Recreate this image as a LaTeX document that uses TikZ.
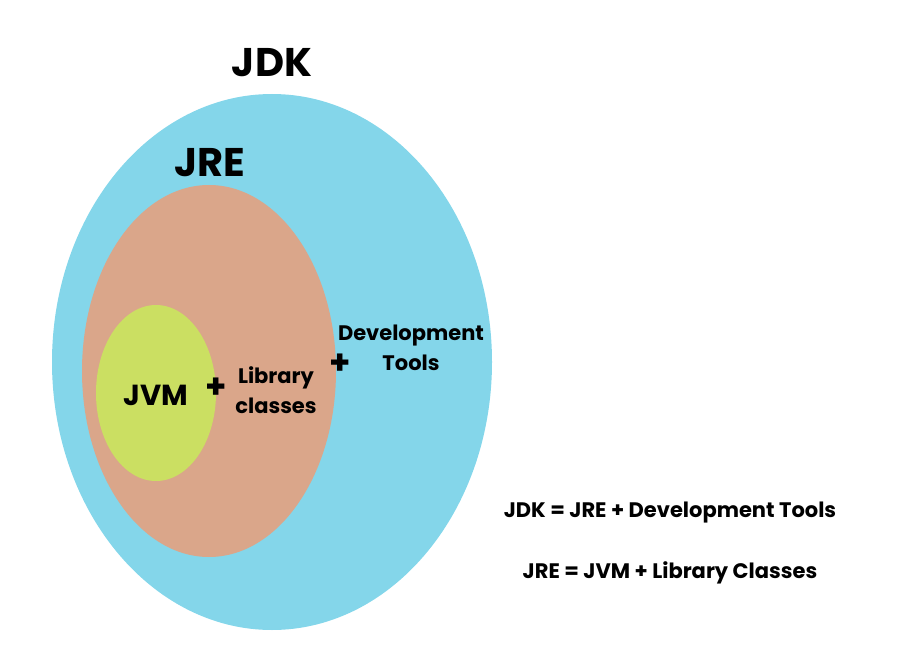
\documentclass[tikz,border=0pt]{standalone}
\usepackage{fontspec}
\setmainfont{Poppins}
\usepackage{tikz}
\usepackage{xcolor}
\usetikzlibrary{positioning}

\definecolor{jdkblue}{HTML}{84D6EA}
\definecolor{jreorange}{HTML}{DAA68A}
\definecolor{jvmgreen}{HTML}{CBDF62}

\begin{document}
\begin{tikzpicture}[x=1pt,y=-1pt,
  big/.style={font=\fontsize{40}{40}\selectfont\bfseries},
  mid/.style={font=\fontsize{29}{29}\selectfont\bfseries},
  small/.style={font=\fontsize{21}{30}\selectfont\bfseries, align=center},
  plus/.style={font=\fontsize{34}{34}\selectfont\bfseries}]
  \useasboundingbox (0,0) rectangle (900,650);

  \fill[jdkblue] (272,362) ellipse (220 and 268);
  \fill[jreorange] (209,371) ellipse (127 and 186);
  \fill[jvmgreen] (156,393) ellipse (60 and 88);

  \node[big] (jdk) at (272,63) {JDK};
  \node[big] (jre) at (210,163) {JRE};
  \node[mid] (jvm) at (156,395) {JVM};

  \node[plus] (plusa) at (216,388) {+};
  \node[small] (lib) at (276,390) {Library\\classes};
  \node[plus] (plusb) at (340,364) {+};
  \node[small] (dev) at (411,348) {Development\\Tools};

  \node[small] (eqa) at (670,513) {JDK = JRE + Development Tools};
  \node[small] (eqb) at (670,573) {JRE = JVM + Library Classes};
\end{tikzpicture}
\end{document}
